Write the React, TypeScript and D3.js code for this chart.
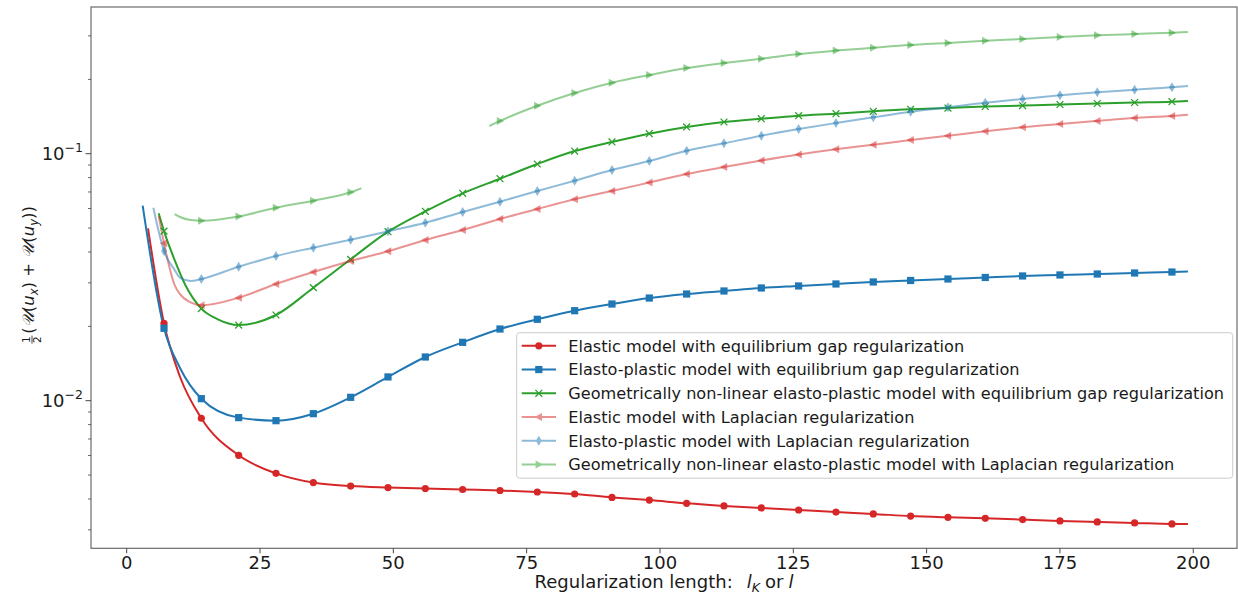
import React from 'react';
import * as d3 from 'd3';

const W = 1238;
const H = 596;

// ---- data ----
const elasticEqX = [4, 7, 10, 14, 21, 28, 35, 42, 49, 56, 63, 70, 77, 84, 91, 98, 105, 112, 119, 126, 133, 140, 147, 154, 161, 168, 175, 182, 189, 196, 199];
const elasticEqY = [0.0499, 0.02057, 0.0125, 0.00849, 0.00601, 0.00508, 0.00466, 0.00451, 0.00445, 0.00441, 0.00437, 0.00433, 0.00427, 0.00419, 0.00406, 0.00396, 0.00384, 0.00375, 0.00368, 0.00361, 0.00354, 0.00348, 0.00341, 0.00337, 0.00334, 0.0033, 0.00326, 0.00323, 0.0032, 0.00317, 0.00317];

const plasticEqX = [3, 7, 10, 14, 21, 28, 35, 42, 49, 56, 63, 70, 77, 84, 91, 98, 105, 112, 119, 126, 133, 140, 147, 154, 161, 168, 175, 182, 189, 196, 199];
const plasticEqY = [0.0616, 0.01964, 0.01357, 0.01019, 0.00854, 0.0083, 0.00886, 0.01032, 0.01248, 0.01503, 0.01723, 0.01951, 0.02136, 0.02314, 0.02463, 0.02604, 0.02704, 0.02781, 0.0286, 0.02914, 0.02969, 0.03025, 0.03067, 0.0311, 0.03154, 0.03199, 0.03229, 0.03258, 0.03289, 0.03319, 0.03334];

const geoEqX = [6, 7, 9, 11, 14, 17, 21, 28, 35, 42, 49, 56, 63, 70, 77, 84, 91, 98, 105, 112, 119, 126, 133, 140, 147, 154, 161, 168, 175, 182, 189, 196, 199];
const geoEqY = [0.0574, 0.0486, 0.0371, 0.0294, 0.0236, 0.0214, 0.02025, 0.02223, 0.02868, 0.03736, 0.04833, 0.05845, 0.06913, 0.07921, 0.09085, 0.1025, 0.1116, 0.1205, 0.1283, 0.1344, 0.1386, 0.1425, 0.1452, 0.1485, 0.1513, 0.1531, 0.1553, 0.1567, 0.1582, 0.1597, 0.1612, 0.1624, 0.1635];

const elasticLapX = [6, 7, 9, 10, 12, 14, 21, 28, 35, 42, 49, 56, 63, 70, 77, 84, 91, 98, 105, 112, 119, 126, 133, 140, 147, 154, 161, 168, 175, 182, 189, 196, 199];
const elasticLapY = [0.056, 0.0434, 0.0294, 0.027, 0.025, 0.02433, 0.02612, 0.02969, 0.03319, 0.03678, 0.04027, 0.04474, 0.04911, 0.0544, 0.05971, 0.06539, 0.07063, 0.07645, 0.08277, 0.08835, 0.09387, 0.09926, 0.1042, 0.1087, 0.1136, 0.1183, 0.1232, 0.1279, 0.1319, 0.1357, 0.1395, 0.1421, 0.1439];

const plasticLapX = [5, 7, 9, 10, 12, 14, 21, 28, 35, 42, 49, 56, 63, 70, 77, 84, 91, 98, 105, 112, 119, 126, 133, 140, 147, 154, 161, 168, 175, 182, 189, 196, 199];
const plasticLapY = [0.06045, 0.04038, 0.03382, 0.03148, 0.03052, 0.0311, 0.03487, 0.03853, 0.04164, 0.04485, 0.04851, 0.05255, 0.05808, 0.06393, 0.07063, 0.07775, 0.0859, 0.09342, 0.1028, 0.1102, 0.1183, 0.1259, 0.1331, 0.1404, 0.1479, 0.1541, 0.1609, 0.1665, 0.1723, 0.1773, 0.1816, 0.1857, 0.188];

// light green: two segments separated by a gap (null)
const geoLapX = [9, 10, 12, 14, 21, 28, 35, 42, 44, 56, 68, 70, 77, 84, 91, 98, 105, 112, 119, 126, 133, 140, 147, 154, 161, 168, 175, 182, 189, 196, 199];
const geoLapY = [0.057, 0.05542, 0.05389, 0.05354, 0.05568, 0.06045, 0.06452, 0.06979, 0.07244, null, 0.1295, 0.1357, 0.1564, 0.1761, 0.1939, 0.2083, 0.2223, 0.2329, 0.2424, 0.2533, 0.2615, 0.2686, 0.2755, 0.2807, 0.2868, 0.2914, 0.2969, 0.3016, 0.3052, 0.309, 0.311];

const seriesLabels = [
  'Elastic model with equilibrium gap regularization',
  'Elasto-plastic model with equilibrium gap regularization',
  'Geometrically non-linear elasto-plastic model with equilibrium gap regularization',
  'Elastic model with Laplacian regularization',
  'Elasto-plastic model with Laplacian regularization',
  'Geometrically non-linear elasto-plastic model with Laplacian regularization',
];
const seriesColors = ['#d62728', '#1f77b4', '#2ca02c', '#d62728', '#1f77b4', '#2ca02c'];
const seriesAlpha = [1, 1, 1, 0.5, 0.5, 0.5];
const seriesMarkers = ['o', 's', 'x', '<', 'd', '>'];
const seriesX = [elasticEqX, plasticEqX, geoEqX, elasticLapX, plasticLapX, geoLapX];
const seriesY = [elasticEqY, plasticEqY, geoEqY, elasticLapY, plasticLapY, geoLapY];

const xTicks = [0, 25, 50, 75, 100, 125, 150, 175, 200];
const yMajorTicks = [0.01, 0.1];
const yMajorExp = ['−2', '−1'];

// ---- layout ----
const PL = 91, PR = 1237, PT = 7, PB = 548.3;
const FONT = 'DejaVu Sans, sans-serif';

const xScale = d3.scaleLinear().domain([-6.69, 208.2]).range([PL, PR]);
const yScale = d3.scaleLog().domain([Math.pow(10, -2.5976), Math.pow(10, -0.406)]).range([PB, PT]);

function Marker({ type, x, y, color }: { type: string; x: number; y: number; color: string }) {
  switch (type) {
    case 'o':
      return <circle cx={x} cy={y} r={3.6} fill={color} />;
    case 's':
      return <rect x={x - 3.6} y={y - 3.6} width={7.2} height={7.2} fill={color} />;
    case 'x':
      return (
        <path d={`M${x - 3.4},${y - 3.4}L${x + 3.4},${y + 3.4}M${x - 3.4},${y + 3.4}L${x + 3.4},${y - 3.4}`} stroke={color} strokeWidth={1.3} fill="none" />
      );
    case '<':
      return <path d={`M${x - 4.2},${y}L${x + 3.2},${y - 4}L${x + 3.2},${y + 4}Z`} fill={color} />;
    case '>':
      return <path d={`M${x + 4.2},${y}L${x - 3.2},${y - 4}L${x - 3.2},${y + 4}Z`} fill={color} />;
    case 'd':
      return <path d={`M${x},${y - 5}L${x + 3},${y}L${x},${y + 5}L${x - 3},${y}Z`} fill={color} />;
    default:
      return null;
  }
}

export default function App() {
  const line = d3
    .line<[number, number | null]>()
    .defined((d) => d[1] != null)
    .x((d) => xScale(d[0]))
    .y((d) => yScale(d[1] as number))
    .curve(d3.curveMonotoneX);

  const minorTicks: number[] = [];
  for (const dec of [0.001, 0.01, 0.1]) {
    for (let k = 2; k <= 9; k++) {
      const v = k * dec;
      if (v >= yScale.domain()[0] && v <= yScale.domain()[1]) minorTicks.push(v);
    }
  }

  const legendX = 516.7, legendY = 332.7, legendW = 716, legendH = 145.5;
  const rowY0 = 345.8, rowDy = 23.75;

  return (
    <svg width={W} height={H} style={{ position: 'absolute', left: 0, top: 0, background: '#fff' }} fontFamily={FONT}>
      <rect x={0} y={0} width={W} height={H} fill="#fff" />
      <defs>
        <clipPath id="plotclip">
          <rect x={PL} y={PT} width={PR - PL} height={PB - PT} />
        </clipPath>
      </defs>

      {/* series */}
      <g clipPath="url(#plotclip)">
        {seriesX.map((xs, i) => {
          const pts = xs.map((x, j) => [x, seriesY[i][j]] as [number, number | null]);
          return (
            <g key={i} opacity={seriesAlpha[i]}>
              <path d={line(pts) || ''} fill="none" stroke={seriesColors[i]} strokeWidth={2} />
            </g>
          );
        })}
        {seriesX.map((xs, i) => (
          <g key={'m' + i} opacity={seriesAlpha[i]}>
            {xs.map((x, j) => {
              const v = seriesY[i][j];
              if (v == null || x % 7 !== 0) return null;
              return <Marker key={j} type={seriesMarkers[i]} x={xScale(x)} y={yScale(v)} color={seriesColors[i]} />;
            })}
          </g>
        ))}
      </g>

      {/* frame */}
      <rect x={PL} y={PT} width={PR - PL} height={PB - PT} fill="none" stroke="#6b6b6b" strokeWidth={1.2} />

      {/* x ticks */}
      {xTicks.map((t) => (
        <g key={t}>
          <line x1={xScale(t)} x2={xScale(t)} y1={PB} y2={PB + 5} stroke="#444" strokeWidth={1} />
          <text x={xScale(t)} y={568.5} fontSize={18} textAnchor="middle" fill="#1a1a1a">
            {t}
          </text>
        </g>
      ))}

      {/* y ticks */}
      {minorTicks.map((t) => (
        <line key={t} x1={PL - 3} x2={PL} y1={yScale(t)} y2={yScale(t)} stroke="#444" strokeWidth={0.8} />
      ))}
      {yMajorTicks.map((t, i) => (
        <g key={t}>
          <line x1={PL - 5.5} x2={PL} y1={yScale(t)} y2={yScale(t)} stroke="#444" strokeWidth={1} />
          <text x={PL - 8} y={yScale(t) + 6.5} fontSize={18} textAnchor="end" fill="#1a1a1a">
            <tspan>10</tspan>
            <tspan fontSize={12.5} dy={-8}>{yMajorExp[i]}</tspan>
          </text>
        </g>
      ))}

      {/* x label */}
      <text x={(PL + PR) / 2} y={588} fontSize={18} textAnchor="middle" fill="#1a1a1a" style={{ whiteSpace: 'pre' }}>
        <tspan>Regularization length:</tspan>
        <tspan dx={14} fontStyle="italic">l</tspan>
        <tspan fontSize={12.5} fontStyle="italic" dy={4}>K</tspan>
        <tspan dy={-4} dx={5}>or</tspan>
        <tspan dx={5} fontStyle="italic">l</tspan>
      </text>

      {/* y label */}
      <g transform={`translate(30, ${(PT + PB) / 2}) rotate(-90)`}>
        <text x={-62} y={0} fontSize={10.5} textAnchor="middle" fill="#1a1a1a">1</text>
        <line x1={-66} x2={-58} y1={2} y2={2} stroke="#1a1a1a" strokeWidth={0.8} />
        <text x={-62} y={11} fontSize={10.5} textAnchor="middle" fill="#1a1a1a">2</text>
        <text x={-56} y={4} fontSize={16.5} textAnchor="start" fill="#1a1a1a">
          <tspan>(</tspan>
          <tspan fontStyle="italic">𝒰</tspan>
          <tspan>(</tspan>
          <tspan fontStyle="italic">u</tspan>
          <tspan fontSize={11.5} fontStyle="italic" dy={4}>x</tspan>
          <tspan dy={-4}>) + </tspan>
          <tspan fontStyle="italic">𝒰</tspan>
          <tspan>(</tspan>
          <tspan fontStyle="italic">u</tspan>
          <tspan fontSize={11.5} fontStyle="italic" dy={4}>y</tspan>
          <tspan dy={-4}>))</tspan>
        </text>
      </g>

      {/* legend */}
      <rect x={legendX} y={legendY} width={legendW} height={legendH} rx={3} fill="#fff" fillOpacity={0.8} stroke="#cccccc" strokeWidth={1} />
      {seriesLabels.map((lab, i) => {
        const y = rowY0 + i * rowDy;
        return (
          <g key={lab}>
            <g opacity={seriesAlpha[i]}>
              <line x1={521.7} x2={556} y1={y} y2={y} stroke={seriesColors[i]} strokeWidth={2} />
              <Marker type={seriesMarkers[i]} x={538.8} y={y} color={seriesColors[i]} />
            </g>
            <text x={568.3} y={y + 5.8} fontSize={16.15} fill="#1a1a1a">
              {lab}
            </text>
          </g>
        );
      })}
    </svg>
  );
}
